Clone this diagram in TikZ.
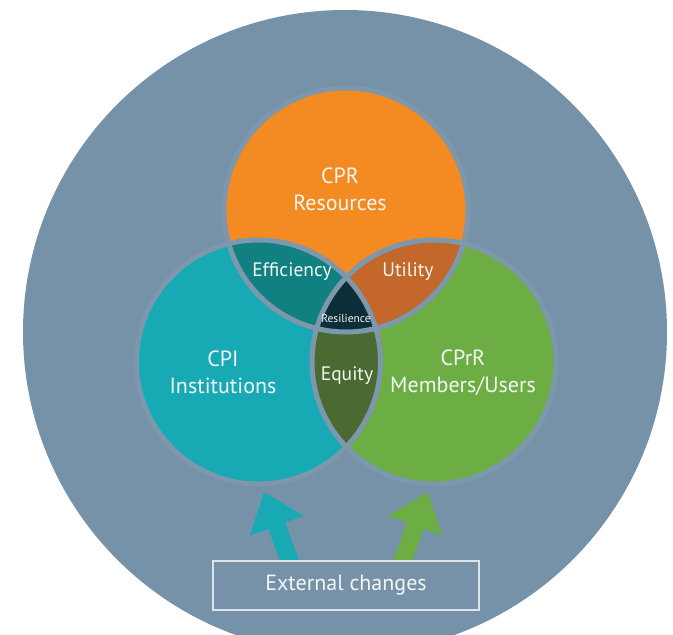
\documentclass[tikz,border=0pt]{standalone}
\usepackage{fontspec}
\setmainfont{PT Sans}
\usetikzlibrary{arrows.meta}
\definecolor{bgc}{HTML}{7692A8}
\definecolor{linec}{HTML}{7D97AC}
\definecolor{orangec}{HTML}{F38B22}
\definecolor{tealc}{HTML}{17AAB5}
\definecolor{greenc}{HTML}{6CAE44}
\definecolor{effc}{HTML}{118080}
\definecolor{utilc}{HTML}{C3672A}
\definecolor{resc}{HTML}{0D2E39}
\definecolor{equc}{HTML}{4B6A31}
\definecolor{txtc}{HTML}{F3F6F3}
\definecolor{boxc}{HTML}{DCE4EA}
\begin{document}
\begin{tikzpicture}[x=1pt,y=-1pt,
  bigtext/.style={text=txtc, font=\fontsize{22}{27}\selectfont, align=center, inner sep=0pt},
  midtext/.style={text=txtc, font=\fontsize{19.5}{23}\selectfont, inner sep=0pt},
  smalltext/.style={text=txtc, font=\fontsize{11.5}{14}\selectfont, inner sep=0pt},
  setline/.style={draw=linec, line width=5pt},
  blockarrow/.style={line width=18pt, -{Triangle[width=55pt,length=36pt]}},
]
\useasboundingbox (0,0) rectangle (673,635);
\fill[white] (0,0) rectangle (673,635);
\begin{scope}
  \clip (0,0) rectangle (673,635);
  \fill[bgc] (345,332) circle[radius=322];
\end{scope}
\def\R{122}
\coordinate (cO) at (346,210);
\coordinate (cT) at (258.5,362);
\coordinate (cG) at (434,362);
% base circles
\fill[tealc] (cT) circle[radius=\R];
\fill[greenc] (cG) circle[radius=\R];
\fill[orangec] (cO) circle[radius=\R];
% pairwise intersections
\begin{scope}
  \clip (cO) circle[radius=\R];
  \fill[effc] (cT) circle[radius=\R];
  \fill[utilc] (cG) circle[radius=\R];
\end{scope}
\begin{scope}
  \clip (cT) circle[radius=\R];
  \fill[equc] (cG) circle[radius=\R];
\end{scope}
% triple intersection
\begin{scope}
  \clip (cO) circle[radius=\R];
  \clip (cT) circle[radius=\R];
  \fill[resc] (cG) circle[radius=\R];
\end{scope}
% outlines
\draw[setline] (cT) circle[radius=\R];
\draw[setline] (cG) circle[radius=\R];
\draw[setline] (cO) circle[radius=\R];
% labels
\node[bigtext] (cpr) at (340,189) {CPR\\Resources};
\node[bigtext] (cpi) at (223,372.5) {CPI\\Institutions};
\node[bigtext] (cprr) at (463,372.5) {CPrR\\Members/Users};
\node[midtext] (eff) at (292,272) {Efficiency};
\node[midtext] (util) at (408,272) {Utility};
\node[smalltext] (res) at (346,318) {Resilience};
\node[midtext] (equ) at (347,376) {Equity};
% external changes box
\node[draw=boxc, line width=1.8pt, minimum width=266pt, minimum height=49pt, bigtext] (ext) at (346,585.5) {External changes};
% arrows
\coordinate (tA) at (295,575);
\coordinate (hA) at (264,492);
\coordinate (tB) at (397,575);
\coordinate (hB) at (428,492);
\begin{scope}
  \clip (0,0) rectangle (673,559);
  \draw[blockarrow, draw=tealc, fill=tealc] (tA) -- (hA);
  \draw[blockarrow, draw=greenc, fill=greenc] (tB) -- (hB);
\end{scope}
\end{tikzpicture}
\end{document}
